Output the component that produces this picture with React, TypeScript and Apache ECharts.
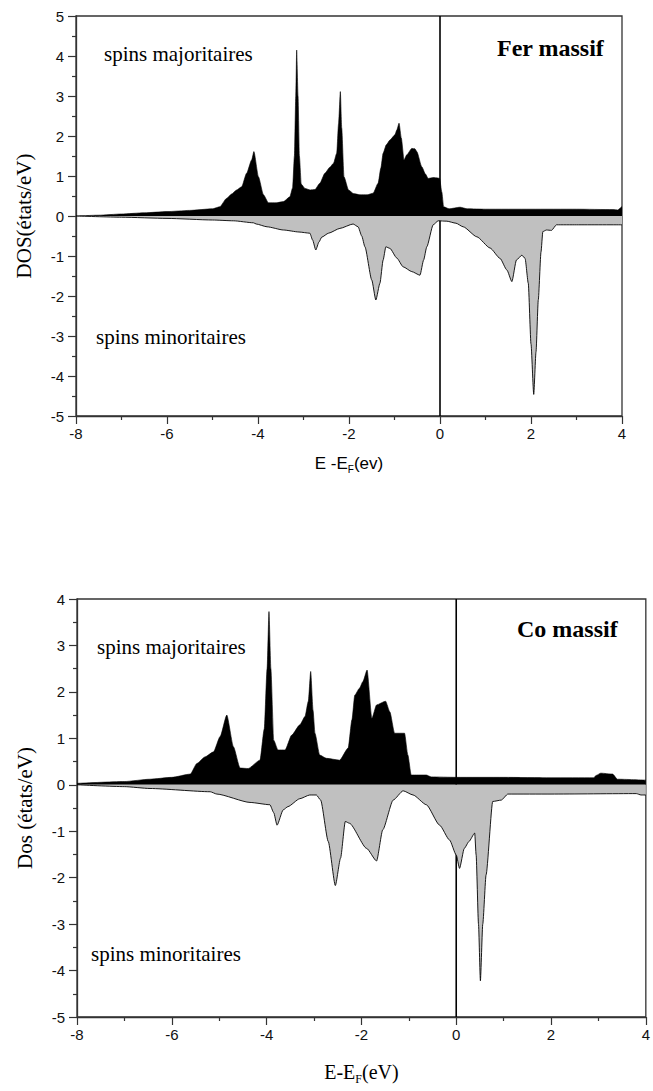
import React, { useEffect, useRef } from "react";
import * as echarts from "echarts";

// ---- Fe (fer massif) ----
const feMajE = [-8, -7.5, -7, -6.5, -6, -5.5, -5, -4.84, -4.69, -4.58, -4.47, -4.36, -4.25, -4.14, -4.09, -3.99, -3.88, -3.77, -3.6, -3.44, -3.3, -3.24, -3.2, -3.17, -3.15, -3.12, -3.09, -3.05, -2.97, -2.85, -2.75, -2.64, -2.53, -2.42, -2.34, -2.27, -2.23, -2.19, -2.16, -2.11, -2.01, -1.9, -1.76, -1.6, -1.47, -1.36, -1.3, -1.25, -1.18, -1.1, -0.99, -0.95, -0.9, -0.85, -0.79, -0.73, -0.62, -0.55, -0.51, -0.4, -0.32, -0.26, -0.15, -0.05, -0.01, 0.04, 0.08, 0.2, 0.44, 0.6, 1, 2, 3, 3.8, 3.9, 4];
const feMajDos = [0, 0.02, 0.05, 0.08, 0.11, 0.14, 0.18, 0.23, 0.44, 0.55, 0.65, 0.73, 1.07, 1.4, 1.61, 0.98, 0.53, 0.33, 0.33, 0.36, 0.48, 0.7, 1.5, 3.0, 4.15, 3.0, 1.5, 0.8, 0.69, 0.65, 0.66, 0.82, 1.07, 1.22, 1.32, 1.57, 2.3, 3.11, 2.2, 0.98, 0.65, 0.56, 0.53, 0.53, 0.57, 0.82, 1.2, 1.57, 1.78, 1.9, 2.03, 2.15, 2.32, 1.95, 1.4, 1.53, 1.69, 1.68, 1.61, 1.23, 1.05, 0.94, 0.96, 0.95, 0.94, 0.6, 0.23, 0.18, 0.22, 0.18, 0.17, 0.17, 0.17, 0.16, 0.15, 0.24];
const feMinE = [-8, -7, -6, -5, -4.54, -4.1, -4.04, -3.8, -3.44, -3.1, -2.86, -2.8, -2.73, -2.66, -2.6, -2.45, -2.2, -1.91, -1.8, -1.72, -1.65, -1.5, -1.41, -1.32, -1.25, -1.19, -1.1, -0.95, -0.81, -0.62, -0.44, -0.36, -0.29, -0.15, -0.04, 0.15, 0.35, 0.51, 0.81, 1.1, 1.32, 1.47, 1.58, 1.68, 1.8, 1.87, 1.94, 2.0, 2.06, 2.11, 2.16, 2.22, 2.26, 2.34, 2.45, 2.56, 3, 4];
const feMinDos = [0, -0.03, -0.06, -0.1, -0.12, -0.17, -0.2, -0.27, -0.35, -0.4, -0.43, -0.6, -0.85, -0.65, -0.53, -0.43, -0.31, -0.2, -0.27, -0.5, -0.77, -1.6, -2.1, -1.68, -1.1, -0.77, -0.81, -1.05, -1.27, -1.39, -1.48, -1.1, -0.77, -0.22, -0.12, -0.13, -0.18, -0.27, -0.52, -0.8, -1.06, -1.35, -1.64, -1.1, -0.98, -1.06, -1.68, -3.2, -4.46, -3.4, -2.1, -0.9, -0.39, -0.35, -0.36, -0.22, -0.22, -0.22];

// ---- Co (cobalt massif) ----
const coMajE = [-8, -7, -6.46, -6, -5.61, -5.47, -5.3, -5.12, -4.98, -4.84, -4.7, -4.56, -4.39, -4.14, -4.05, -3.99, -3.95, -3.91, -3.85, -3.76, -3.61, -3.47, -3.3, -3.19, -3.12, -3.07, -3.02, -2.98, -2.88, -2.74, -2.46, -2.28, -2.2, -2.14, -2.04, -1.97, -1.88, -1.78, -1.68, -1.49, -1.4, -1.3, -1.09, -1.02, -0.95, -0.63, -0.53, 0, 1, 2, 2.9, 2.95, 3.05, 3.3, 3.4, 4];
const coMajDos = [0.03, 0.07, 0.12, 0.16, 0.23, 0.46, 0.6, 0.71, 1.04, 1.5, 0.82, 0.36, 0.35, 0.53, 1.2, 2.5, 3.73, 2.5, 0.96, 0.75, 0.75, 1.07, 1.29, 1.47, 1.8, 2.44, 1.6, 1.11, 0.64, 0.57, 0.53, 0.79, 1.4, 1.93, 2.08, 2.22, 2.47, 1.43, 1.72, 1.8, 1.57, 1.11, 1.11, 0.64, 0.21, 0.21, 0.17, 0.16, 0.16, 0.15, 0.15, 0.2, 0.25, 0.23, 0.12, 0.1];
const coMinE = [-8, -7, -6.46, -5.19, -5.05, -4.35, -3.93, -3.85, -3.78, -3.65, -3.55, -3.3, -3.09, -2.95, -2.86, -2.7, -2.55, -2.44, -2.34, -2.25, -1.89, -1.68, -1.55, -1.33, -1.12, -0.91, -0.63, -0.35, -0.14, 0, 0.07, 0.17, 0.27, 0.39, 0.42, 0.47, 0.51, 0.56, 0.63, 0.77, 0.95, 1.09, 2, 3.8, 3.9, 4];
const coMinDos = [0, -0.04, -0.08, -0.15, -0.2, -0.38, -0.43, -0.6, -0.87, -0.54, -0.47, -0.3, -0.22, -0.22, -0.33, -1.22, -2.17, -1.58, -0.79, -0.83, -1.37, -1.64, -0.97, -0.33, -0.13, -0.22, -0.43, -0.87, -1.19, -1.51, -1.8, -1.37, -1.22, -1.04, -1.51, -3.0, -4.22, -3.0, -1.94, -0.36, -0.33, -0.2, -0.2, -0.19, -0.22, -0.22];

const xTicks = { min: -8, max: 4, interval: 2 };
const feY = { min: -5, max: 5, interval: 1 };
const coY = { min: -5, max: 4, interval: 1 };

const SANS = "Liberation Sans, Arial, sans-serif";
const SERIF = "Liberation Serif, Times New Roman, serif";

const pairs = (xs: number[], ys: number[]) => xs.map((x, i) => [x, ys[i]]);

export default function App() {
  const ref = useRef<HTMLDivElement>(null);
  useEffect(() => {
    if (!ref.current) return;
    const chart = echarts.init(ref.current, null, { renderer: "svg" });
    const axisLine = { show: true, onZero: false, lineStyle: { color: "#333", width: 1.3 } };
    const tick = { show: true, length: 8, lineStyle: { color: "#333", width: 1.2 } };
    const minor = { show: true, splitNumber: 2, length: 4, lineStyle: { color: "#333", width: 1.2 } };
    const tickLabel = { color: "#111", fontFamily: SANS, fontSize: 15 };
    const mkX = (gi: number, name: any, nameStyle: any, gap: number) => ({
      type: "value", gridIndex: gi, min: xTicks.min, max: xTicks.max, interval: xTicks.interval,
      axisLine, axisTick: tick, minorTick: minor, splitLine: { show: false },
      axisLabel: { ...tickLabel, margin: 10 },
      name, nameLocation: "middle", nameGap: gap, nameTextStyle: nameStyle,
    });
    const mkY = (gi: number, r: any, name: string) => ({
      type: "value", gridIndex: gi, min: r.min, max: r.max, interval: r.interval,
      axisLine, axisTick: tick, minorTick: minor, splitLine: { show: false },
      axisLabel: { ...tickLabel, margin: 12 },
      name, nameLocation: "middle", nameGap: 42, nameRotate: 90,
      nameTextStyle: { fontFamily: SERIF, fontSize: 21, color: "#000" },
    });
    const major = (xs: number[], ys: number[], gi: number) => ({
      type: "line", xAxisIndex: gi, yAxisIndex: gi, data: pairs(xs, ys), symbol: "none", z: 3,
      smooth: 0.2, smoothMonotone: "x",
      lineStyle: { color: "#000", width: 0.6 }, areaStyle: { color: "#000", opacity: 1 },
    });
    const minorS = (xs: number[], ys: number[], gi: number) => ({
      type: "line", xAxisIndex: gi, yAxisIndex: gi, data: pairs(xs, ys), symbol: "none", z: 3,
      smooth: 0.2, smoothMonotone: "x",
      lineStyle: { color: "#000", width: 0.9 }, areaStyle: { color: "#c0c0c0", opacity: 1 },
    });
    const zeroLine = (gi: number, r: any) => ({
      type: "line", xAxisIndex: gi, yAxisIndex: gi, data: [[0, r.min], [0, r.max]], symbol: "none", z: 1,
      lineStyle: { color: "#000", width: 1.6 },
    });
    chart.setOption({
      animation: false,
      backgroundColor: "#fff",
      grid: [
        { left: 76, top: 16, width: 546, height: 400, show: true, borderColor: "#333", borderWidth: 1.3 },
        { left: 77, top: 599, width: 570, height: 418, show: true, borderColor: "#333", borderWidth: 1.3 },
      ],
      xAxis: [
        mkX(0, "E -E{sub|F}(ev)", {
          fontFamily: SANS, fontSize: 17, color: "#000",
          rich: { sub: { fontFamily: SANS, fontSize: 10, color: "#000", verticalAlign: "bottom", padding: [12, 0, 0, 0] } },
        }, 36),
        mkX(1, "E-E{sub|F}(eV)", {
          fontFamily: SERIF, fontSize: 20, color: "#000",
          rich: { sub: { fontFamily: SERIF, fontSize: 12, color: "#000", verticalAlign: "bottom", padding: [14, 0, 0, 0] } },
        }, 42),
      ],
      yAxis: [mkY(0, feY, "DOS(états/eV)"), mkY(1, coY, "Dos (états/eV)")],
      series: [
        zeroLine(0, feY),
        major(feMajE, feMajDos, 0),
        minorS(feMinE, feMinDos, 0),
        zeroLine(1, coY),
        major(coMajE, coMajDos, 1),
        minorS(coMinE, coMinDos, 1),
      ],
      graphic: [
        { type: "text", left: 104, top: 43, style: { text: "spins majoritaires", font: `21px ${SERIF}`, fill: "#000" } },
        { type: "text", left: 497, top: 36, style: { text: "Fer massif", font: `bold 24px ${SERIF}`, fill: "#000" } },
        { type: "text", left: 96, top: 326, style: { text: "spins minoritaires", font: `21px ${SERIF}`, fill: "#000" } },
        { type: "text", left: 97, top: 636, style: { text: "spins majoritaires", font: `21px ${SERIF}`, fill: "#000" } },
        { type: "text", left: 517, top: 617, style: { text: "Co massif", font: `bold 24px ${SERIF}`, fill: "#000" } },
        { type: "text", left: 91, top: 943, style: { text: "spins minoritaires", font: `21px ${SERIF}`, fill: "#000" } },
      ],
    });
    return () => chart.dispose();
  }, []);
  return <div ref={ref} style={{ position: "absolute", left: 0, top: 0, width: 653, height: 1091 }} />;
}
